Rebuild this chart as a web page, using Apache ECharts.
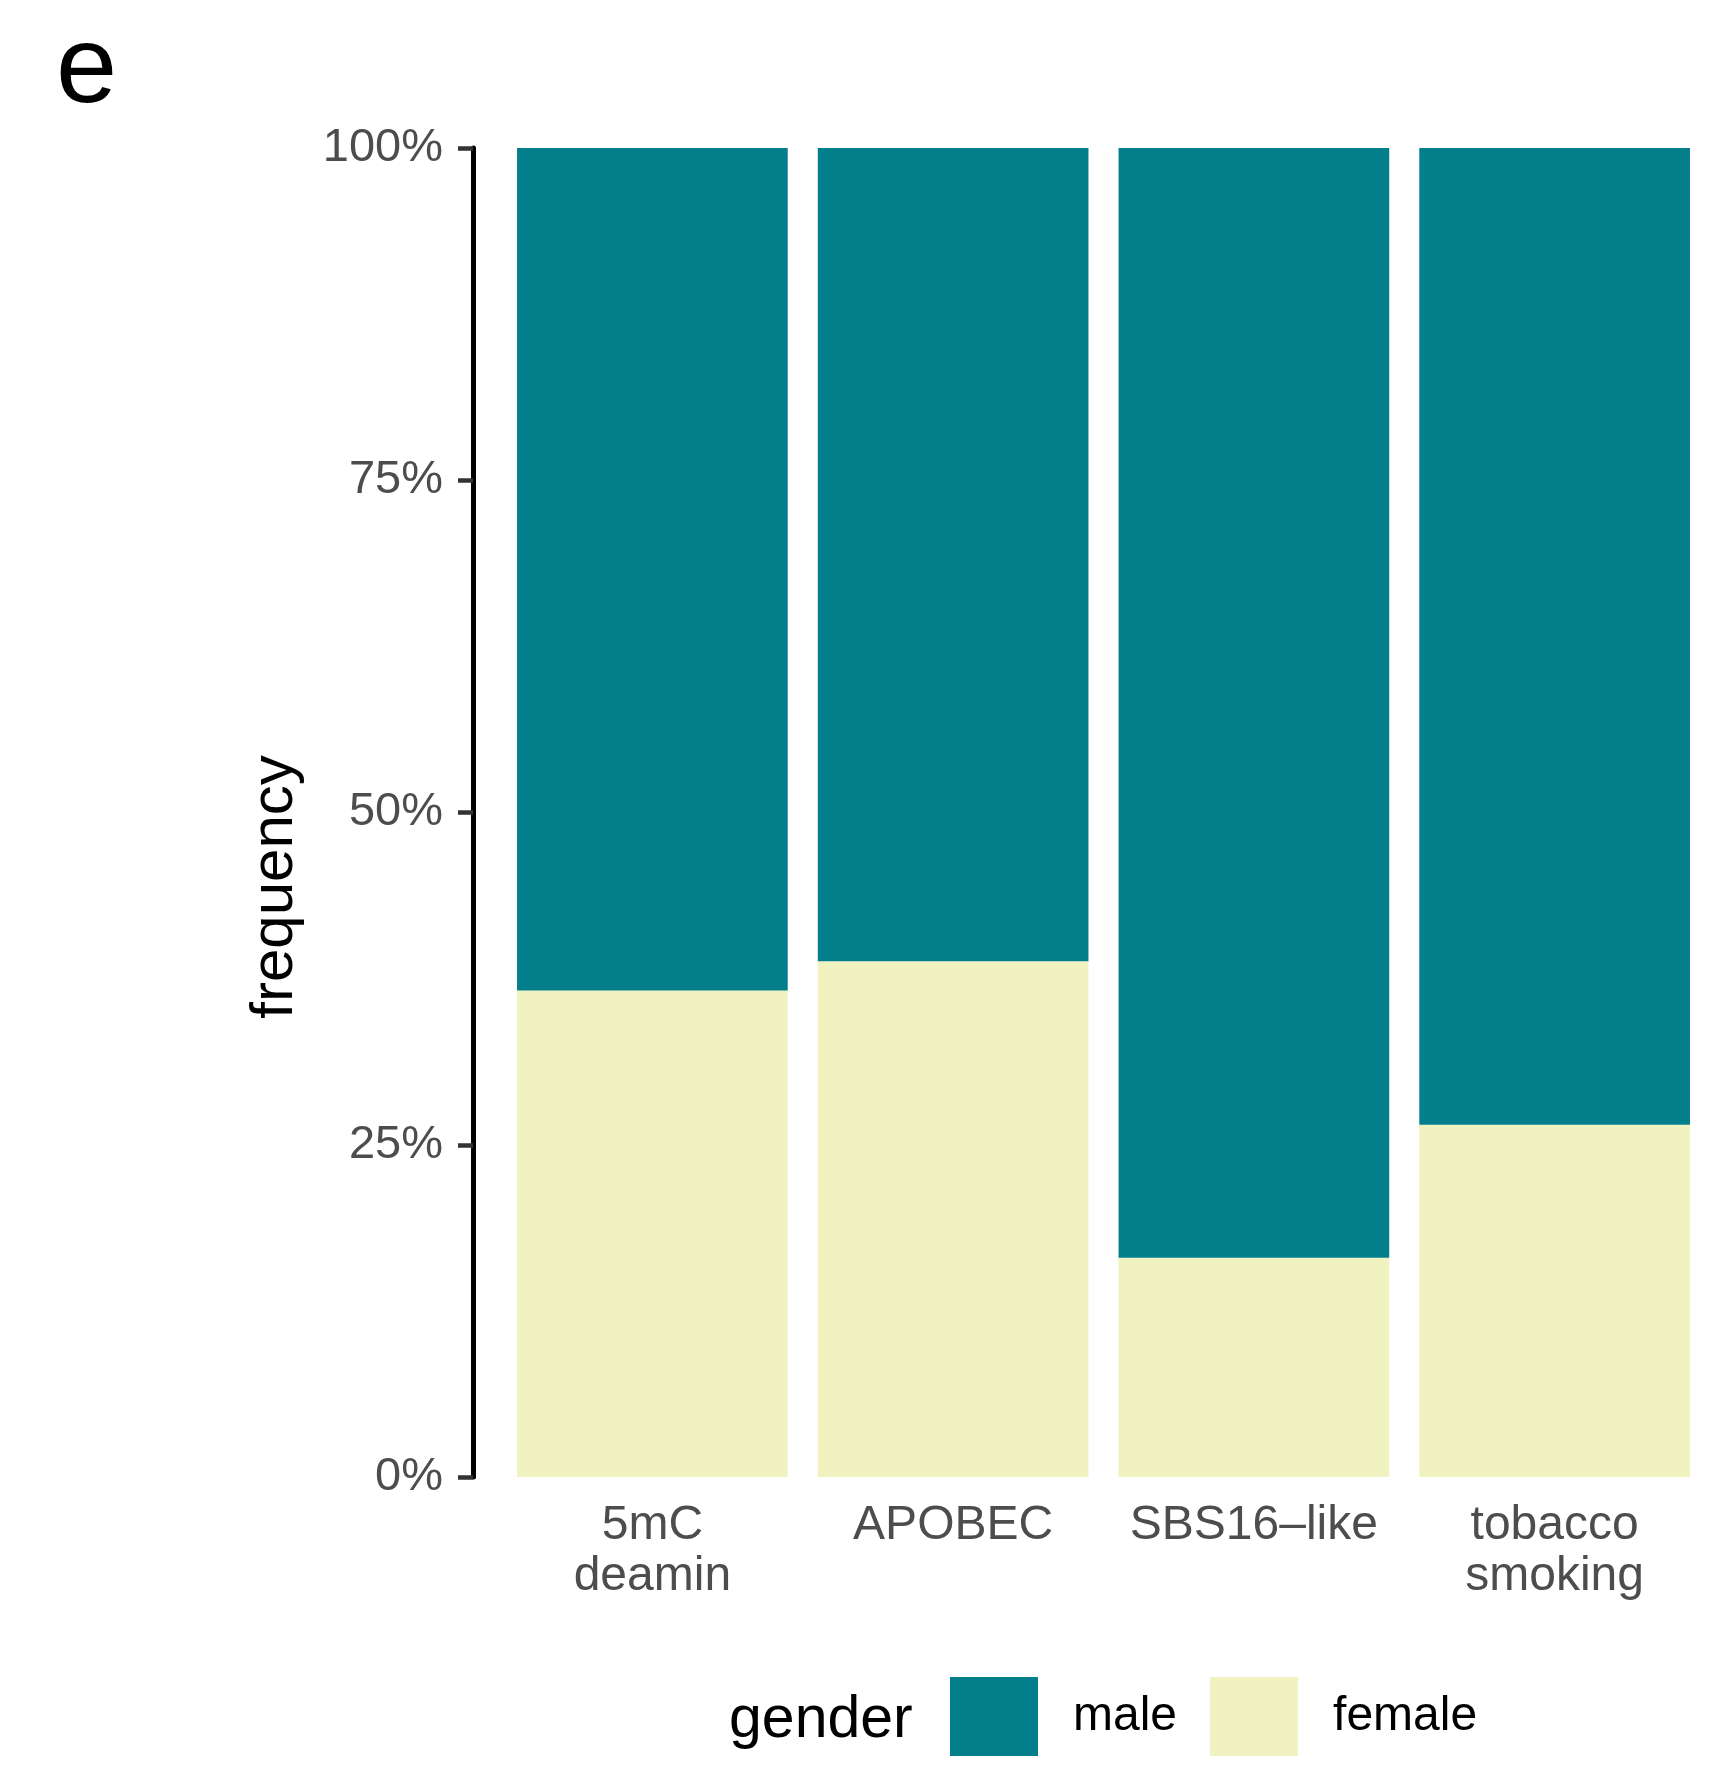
<!DOCTYPE html>
<html>
<head>
<meta charset="utf-8">
<script src="https://cdn.jsdelivr.net/npm/echarts@6/dist/echarts.min.js"></script>
<style>
  html, body { margin: 0; padding: 0; background: #ffffff; }
  #chart { width: 1716px; height: 1766px; }
</style>
</head>
<body>
<div id="chart"></div>
<script>
// Mutational signature groups and the share of samples by gender
const categories = ['5mC\ndeamin', 'APOBEC', 'SBS16\u2013like', 'tobacco\nsmoking'];
const femaleShare = [0.366, 0.388, 0.165, 0.265];
const maleShare = [0.634, 0.612, 0.835, 0.735];
const yTicks = [0, 0.25, 0.5, 0.75, 1];

const MALE_COLOR = '#037F8C';
const FEMALE_COLOR = '#F0F2C0';
const FONT = '"Liberation Sans", Arial, Helvetica, sans-serif';

const chart = echarts.init(document.getElementById('chart'), null, { renderer: 'canvas' });

chart.setOption({
  backgroundColor: '#ffffff',
  animation: false,
  grid: { left: 502, right: 11, top: 148, bottom: 289, containLabel: false },
  xAxis: {
    type: 'category',
    data: categories,
    boundaryGap: true,
    axisLine: { show: false },
    axisTick: { show: false },
    axisLabel: {
      color: '#4d4d4d',
      fontFamily: FONT,
      fontSize: 48,
      lineHeight: 51,
      margin: 23,
      interval: 0
    }
  },
  yAxis: {
    type: 'value',
    min: 0,
    max: 1,
    interval: 0.25,
    offset: 29,
    splitLine: { show: false },
    axisLine: { show: true, lineStyle: { color: '#000000', width: 5 } },
    axisTick: { show: true, length: 15, lineStyle: { color: '#333333', width: 4.5 } },
    axisLabel: {
      color: '#4d4d4d',
      fontFamily: FONT,
      fontSize: 47,
      margin: 30,
      padding: [13, 0, 0, 0],
      formatter: v => yTicks.includes(v) ? Math.round(v * 100) + '%' : ''
    }
  },
  legend: {
    data: ['male', 'female'],
    left: 945,
    top: 1672,
    orient: 'horizontal',
    itemWidth: 88,
    itemHeight: 79,
    itemGap: 33,
    icon: 'rect',
    selectedMode: false,
    textStyle: {
      color: '#000000',
      fontFamily: FONT,
      fontSize: 48,
      padding: [12, 0, 0, 30]
    }
  },
  series: [
    {
      name: 'female',
      type: 'bar',
      stack: 'share',
      barWidth: '90%',
      data: femaleShare,
      itemStyle: { color: FEMALE_COLOR }
    },
    {
      name: 'male',
      type: 'bar',
      stack: 'share',
      barWidth: '90%',
      data: maleShare,
      itemStyle: { color: MALE_COLOR }
    }
  ],
  graphic: [
    {
      type: 'text',
      left: 56,
      top: 17,
      style: { text: 'e', fill: '#000000', font: '110px ' + FONT }
    },
    {
      type: 'text',
      x: 275,
      y: 887,
      rotation: Math.PI / 2,
      style: {
        text: 'frequency',
        fill: '#000000',
        font: '60px ' + FONT,
        align: 'center',
        verticalAlign: 'middle'
      }
    },
    {
      type: 'text',
      x: 729,
      y: 1721,
      style: {
        text: 'gender',
        fill: '#000000',
        font: '59px ' + FONT,
        align: 'left',
        verticalAlign: 'middle'
      }
    }
  ]
});
</script>
</body>
</html>
